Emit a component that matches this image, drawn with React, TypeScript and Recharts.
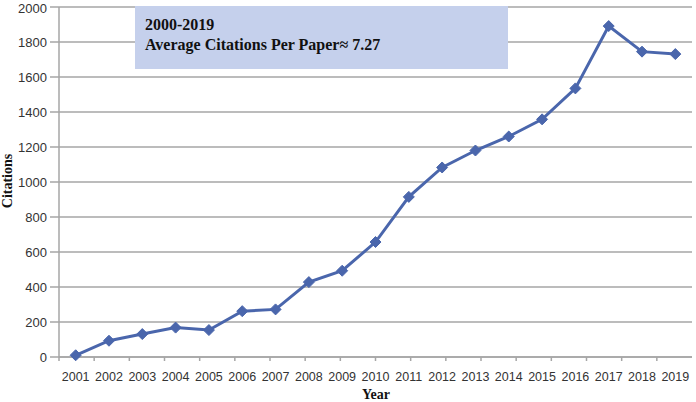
import React from 'react';
import { LineChart, Line, XAxis, YAxis, CartesianGrid } from 'recharts';

const years = ['2001', '2002', '2003', '2004', '2005', '2006', '2007', '2008', '2009', '2010',
  '2011', '2012', '2013', '2014', '2015', '2016', '2017', '2018', '2019'];
const citations = [10, 93, 131, 168, 154, 262, 272, 428, 493, 657,
  915, 1083, 1180, 1260, 1358, 1535, 1891, 1745, 1731];
const yTicks = [0, 200, 400, 600, 800, 1000, 1200, 1400, 1600, 1800, 2000];
const boundaryTicks = Array.from({ length: years.length + 1 }, (_, i) => i);

const data = years.map((year, i) => ({ year, value: citations[i] }));

const LINE_COLOR = '#4a66ac';
const GRID_COLOR = '#a6a6a6';

// plot spans 59..692 px, so half a category band on each side
const HALF_BAND = (692 - 59) / years.length / 2;

const Diamond = (props: any) => {
  const { cx, cy } = props;
  if (cx == null || cy == null) return null;
  const r = 5.5;
  return (
    <polygon
      points={`${cx},${cy - r} ${cx + r},${cy} ${cx},${cy + r} ${cx - r},${cy}`}
      fill={LINE_COLOR}
      stroke={LINE_COLOR}
      strokeWidth={1}
    />
  );
};

export default function App() {
  return (
    <div style={{ position: 'absolute', left: 0, top: 0, width: 696, height: 402, background: '#fff' }}>
      <style>{`body{margin:0}`}</style>
      <LineChart
        width={696}
        height={402}
        data={data}
        margin={{ top: 7, right: 4, bottom: 15, left: 0 }}
      >
        <CartesianGrid xAxisId={1} vertical={false} stroke={GRID_COLOR} strokeWidth={1.5} />
        {/* boundary tick marks between the years, sits right under the plot */}
        <XAxis
          xAxisId={0}
          type="number"
          domain={[0, years.length]}
          ticks={boundaryTicks}
          tick={() => <g />}
          tickSize={4}
          tickLine={{ stroke: GRID_COLOR, strokeWidth: 1.5 }}
          axisLine={{ stroke: GRID_COLOR, strokeWidth: 1.5 }}
          height={4}
        />
        <XAxis
          xAxisId={1}
          dataKey="year"
          tickLine={false}
          axisLine={false}
          padding={{ left: HALF_BAND, right: HALF_BAND }}
          tick={{ fill: '#333', fontSize: 12.5, fontFamily: 'Liberation Sans' }}
          tickMargin={5}
          height={26}
          interval={0}
        />
        <YAxis
          domain={[0, 2000]}
          ticks={yTicks}
          width={59}
          tickSize={9}
          tickMargin={3}
          tickLine={{ stroke: GRID_COLOR, strokeWidth: 1.5 }}
          axisLine={{ stroke: GRID_COLOR, strokeWidth: 1.5 }}
          tick={{ fill: '#333', fontSize: 13, fontFamily: 'Liberation Sans' }}
        />
        <Line
          xAxisId={1}
          type="linear"
          dataKey="value"
          stroke={LINE_COLOR}
          strokeWidth={3}
          dot={<Diamond />}
          activeDot={false}
          isAnimationActive={false}
        />
      </LineChart>
      <div
        style={{
          position: 'absolute',
          left: 135,
          top: 6,
          width: 373,
          height: 63,
          background: '#c5d0ec',
          fontFamily: 'Liberation Serif',
          fontWeight: 'bold',
          fontSize: 16,
          lineHeight: '20px',
          color: '#111',
          padding: '9px 0 0 10px',
          boxSizing: 'border-box',
        }}
      >
        <div>2000-2019</div>
        <div>Average Citations Per Paper≈ 7.27</div>
      </div>
      <div
        style={{
          position: 'absolute',
          left: 8,
          top: 181,
          transform: 'translate(-50%, -50%) rotate(-90deg)',
          fontFamily: 'Liberation Serif',
          fontWeight: 'bold',
          fontSize: 14,
          color: '#111',
          whiteSpace: 'nowrap',
        }}
      >
        Citations
      </div>
      <div
        style={{
          position: 'absolute',
          left: 376,
          top: 395,
          transform: 'translate(-50%, -50%)',
          fontFamily: 'Liberation Serif',
          fontWeight: 'bold',
          fontSize: 14,
          color: '#111',
          whiteSpace: 'nowrap',
        }}
      >
        Year
      </div>
    </div>
  );
}
